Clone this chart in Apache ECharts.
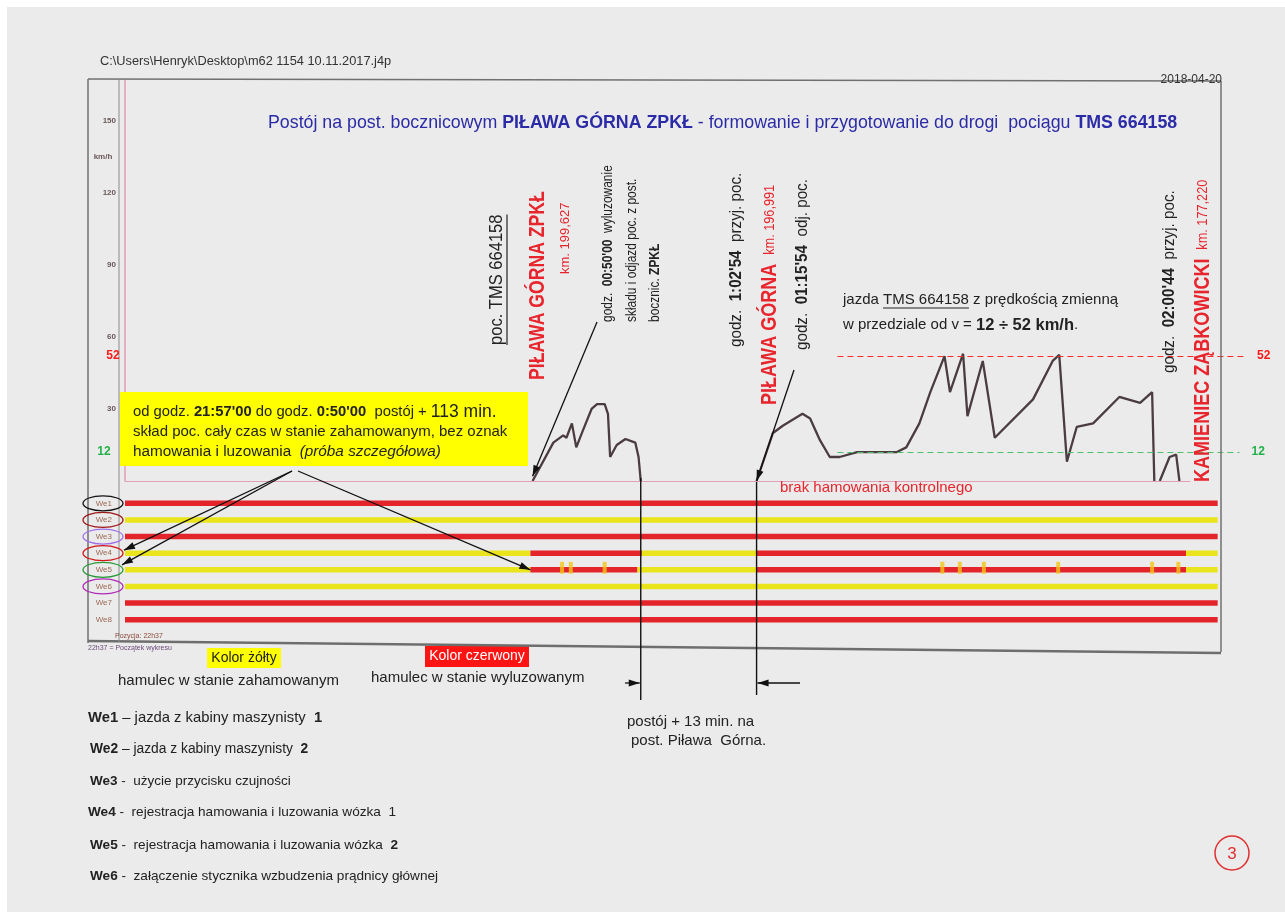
<!DOCTYPE html>
<html><head><meta charset="utf-8">
<script src="https://cdn.jsdelivr.net/npm/echarts@6/dist/echarts.min.js"></script>
<style>html,body{margin:0;padding:0;background:#fff}#c{width:1285px;height:912px}</style>
</head><body><div id="c"></div>
<script>
// ---- DATA ----
// recording position (chart units, not linear time) and speed [km/h]
const speedPos = [0, 373, 392, 401, 404, 409, 413, 419, 427, 432, 439, 442, 444, 450, 458, 467, 470, 472, 578, 593, 602, 620, 627, 636, 645, 654, 670, 684, 706, 715, 727, 737, 750, 755, 767, 771, 785, 796, 831, 849, 855, 862, 871, 886, 910, 929, 940, 942, 947, 956, 962, 965, 975];
const speedKmh = [0, 0, 16, 19, 18, 24, 14, 21, 30, 32, 32, 28, 10, 15, 17.5, 16, 10, 0, 0, 20, 23, 28, 26, 17, 10, 10, 12, 12, 12, 14, 24, 37, 52, 37, 53, 27, 50, 18, 34, 50, 52.5, 8, 22.5, 24, 35, 32.5, 37, 0, 0, 10, 11, 0, 0];
const speedTicks = [30, 60, 90, 120, 150];
const speedLimits = [52, 12];
const rowLabels = ['We1', 'We2', 'We3', 'We4', 'We5', 'We6', 'We7', 'We8'];
// digital inputs: [start, end, state]  1 = red (wyluzowany), 0 = yellow (zahamowany)
const we1 = [[0, 1000, 1]];
const we2 = [[0, 1000, 0]];
const we3 = [[0, 1000, 1]];
const we4 = [[0, 371, 0], [371, 473, 1], [473, 578, 0], [578, 971, 1], [971, 1000, 0]];
const we5 = [[0, 371, 0], [371, 469, 1], [469, 578, 0], [578, 971, 1], [971, 1000, 0]];
const we6 = [[0, 1000, 0]];
const we7 = [[0, 1000, 1]];
const we8 = [[0, 1000, 1]];
const we5Pulses = [400, 408, 439, 748, 764, 786, 854, 940, 964];
const stopStart = 472, stopEnd = 578, departPos = 373;

// ---- BUILD ----
const RED = '#e3242b', YEL = '#e9e41c';
const N = "'Liberation Sans Narrow','Arial Narrow','Liberation Sans',Arial,sans-serif";
const A = "'Liberation Sans',Arial,sans-serif";
const tracks = [we1, we2, we3, we4, we5, we6, we7, we8];
const trackData = [];
tracks.forEach((segs, r) => segs.forEach(s => trackData.push([r, s[0], s[1], s[2]])));
const speedData = [];
for (let i = 1; i < speedPos.length; i++) {
  speedData.push([speedPos[i], speedKmh[i]]);
  if (i + 1 < speedPos.length && speedKmh[i] === 0 && speedKmh[i + 1] === 0) speedData.push([(speedPos[i] + speedPos[i + 1]) / 2, '-']);
}
const chart = echarts.init(document.getElementById('c'), null, {renderer: 'canvas'});
const dash = [6, 4];
chart.setOption({
  animation: false,
  backgroundColor: '#ebebeb',
  grid: [
    {left: 125, right: 40, top: 80, height: 401, containLabel: false, outerBoundsMode: 'none'},
    {left: 125, right: 40, top: 495, height: 133, containLabel: false, outerBoundsMode: 'none'}
  ],
  xAxis: [
    {gridIndex: 0, type: 'value', min: 0, max: 1025, show: false},
    {gridIndex: 1, type: 'value', min: 0, max: 1025, show: false}
  ],
  yAxis: [
    {gridIndex: 0, type: 'value', min: 0, max: 167, interval: 30,
      axisLine: {show: true, lineStyle: {color: '#e2a0b6', width: 1.5}}, axisTick: {show: false}, splitLine: {show: false},
      axisLabel: {margin: 9, fontSize: 8, fontWeight: 'bold', color: '#6a5858', fontFamily: A,
        formatter: v => speedTicks.indexOf(v) >= 0 ? String(v) : ''}},
    {gridIndex: 1, type: 'category', data: rowLabels, inverse: true,
      axisLine: {show: false}, axisTick: {show: false}, splitLine: {show: false},
      axisLabel: {margin: 13, fontSize: 8, color: '#9c6a55', fontFamily: A}}
  ],
  series: [
    {type: 'line', xAxisIndex: 0, yAxisIndex: 0, data: speedData, showSymbol: false, connectNulls: false,
      lineStyle: {color: '#4b3c40', width: 2.3}, z: 3,
      markLine: {silent: true, symbol: ['none', 'none'], animation: false,
        data: [
          [{coord: [0, 0], lineStyle: {color: '#e2a0b6', type: 'solid', width: 1.2}, label: {show: false}}, {coord: [975, 0]}],
          [{coord: [652, speedLimits[0]], lineStyle: {color: '#ff2a2a', type: dash, width: 1}, label: {show: true, position: 'end', distance: 12, formatter: String(speedLimits[0]), color: '#ff1a1a', fontWeight: 'bold', fontSize: 12, fontFamily: A}}, {coord: [1025, speedLimits[0]]}],
          [{coord: [652, speedLimits[1]], lineStyle: {color: '#4cc06a', type: dash, width: 1}, label: {show: true, position: 'end', distance: 12, formatter: String(speedLimits[1]), color: '#22b04a', fontWeight: 'bold', fontSize: 12, fontFamily: A}}, {coord: [1020, speedLimits[1]]}]
        ]}},
    {type: 'custom', xAxisIndex: 1, yAxisIndex: 1, data: trackData, encode: {x: [1, 2], y: 0}, z: 2,
      renderItem: function (params, api) {
        const r = api.value(0), s = api.value(1), e = api.value(2), st = api.value(3);
        const p1 = api.coord([s, r]), p2 = api.coord([e, r]);
        return {type: 'rect', shape: {x: p1[0], y: p1[1] - 2.75, width: p2[0] - p1[0], height: 5.5}, style: {fill: st === 1 ? RED : YEL}};
      }},
    {type: 'scatter', xAxisIndex: 1, yAxisIndex: 1, data: we5Pulses.map(x => [x, 'We5']), symbol: 'rect', symbolSize: [4, 12], symbolOffset: [0, -2], itemStyle: {color: '#f2c51a'}, z: 4, silent: true}
  ]
});

// ---- ANNOTATIONS ----
const ctx = document.createElement('canvas').getContext('2d');
function tw(t, size, fam, w) { ctx.font = (w || 'normal') + ' ' + size + 'px ' + fam; return ctx.measureText(t).width; }
const P = (u, v) => chart.convertToPixel({xAxisIndex: 0, yAxisIndex: 0}, [u, v]);
const T = (u, r) => chart.convertToPixel({xAxisIndex: 1, yAxisIndex: 1}, [u, r]);
const g = [];
const Z = 20;
function line(x1, y1, x2, y2, c, w) { g.push({type: 'line', z: Z, silent: true, shape: {x1, y1, x2, y2}, style: {stroke: c || '#111', lineWidth: w || 1.3}}); }
function arrow(x1, y1, x2, y2) {
  line(x1, y1, x2, y2, '#111', 1.3);
  const dx = x2 - x1, dy = y2 - y1, L = Math.hypot(dx, dy), ux = dx / L, uy = dy / L, hl = 11, hw = 3.5;
  const bx = x2 - ux * hl, by = y2 - uy * hl;
  g.push({type: 'polygon', z: Z, silent: true, shape: {points: [[x2, y2], [bx - uy * hw, by + ux * hw], [bx + uy * hw, by - ux * hw]]}, style: {fill: '#111'}});
}
function text(x, y, t, o) {
  o = o || {};
  const size = o.size || 14, fam = o.fam || N, fill = o.fill || '#222';
  g.push({type: 'text', z: Z + 1, silent: true, x, y, rotation: o.rot ? Math.PI / 2 : 0, scaleX: o.sx || 1,
    style: {text: t, fill, fontSize: size, fontFamily: fam, fontWeight: o.weight || 'normal', fontStyle: o.style || 'normal',
      align: o.align || 'left', verticalAlign: o.va || 'middle',
      rich: Object.assign({
        b: {fontWeight: 'bold', fontSize: size, fontFamily: fam, fill},
        i: {fontStyle: 'italic', fontSize: size, fontFamily: fam, fill}
      }, o.rich || {})}});
}
function rect(x, y, w, h, fill, z) { g.push({type: 'rect', z: z === undefined ? Z - 1 : z, silent: true, shape: {x, y, width: w, height: h}, style: {fill}}); }

// paper edges
rect(0, 0, 1285, 7, '#ffffff', 0);
rect(0, 0, 7, 912, '#ffffff', 0);
// frame
line(88, 79, 1221, 81, '#707070', 1.5);
line(88, 79, 88, 643, '#707070', 1.5);
line(1221, 81, 1221, 652, '#707070', 1.5);
line(88, 641, 1221, 653, '#6e6e6e', 2.5);
line(119, 80, 119, 642, '#8a8a8a', 1);

// header
text(100, 61, 'C:\\Users\\Henryk\\Desktop\\m62 1154 10.11.2017.j4p', {size: 12.8, fill: '#333'});
text(1222, 80, '2018-04-20', {size: 12, fam: A, fill: '#333', align: 'right'});
text(268, 123, 'Postój na post. bocznicowym {b|PIŁAWA GÓRNA ZPKŁ} - formowanie i przygotowanie do drogi  pociągu {b|TMS 664158}', {size: 17.8, fam: A, fill: '#2b2ba8'});

// y axis unit
text(103, P(0, 135)[1], 'km/h', {size: 8, fam: A, fill: '#6a5858', weight: 'bold', align: 'center'});
// left speed limit labels
text(113, P(0, speedLimits[0])[1], String(speedLimits[0]), {size: 12, fam: A, fill: '#ff1a1a', weight: 'bold', align: 'center'});
text(104, P(0, speedLimits[1])[1], String(speedLimits[1]), {size: 12, fam: A, fill: '#22b04a', weight: 'bold', align: 'center'});

// vertical annotations
const pocTxt = 'poc. TMS 664158';
text(497, 345, pocTxt, {size: 19, rot: true, sx: 0.87});
line(507, 345, 507, 345 - tw(pocTxt, 19, N) * 0.87, '#222', 1.2);
const RB = {B: {fontWeight: 'bold', fontSize: 22, fontFamily: N, fill: '#e8242c'}};
text(538, 380, '{B|PIŁAWA GÓRNA ZPKŁ}', {size: 22, fill: '#e8242c', rot: true, sx: 0.8, rich: RB});
text(565, 274, 'km. 199,627', {size: 13, fill: '#e8242c', rot: true});
text(608, 322, 'godz.  {b|00:50\'00}  wyluzowanie', {size: 15.5, rot: true, sx: 0.77});
text(632, 322, 'składu i odjazd poc. z post.', {size: 15.5, rot: true, sx: 0.77});
text(655, 322, 'bocznic. {b|ZPKŁ}', {size: 15.5, rot: true, sx: 0.77});
text(737, 347, 'godz.  {b|1:02\'54}  przyj. poc.', {size: 16, rot: true, sx: 0.95});
text(770, 405, '{B|PIŁAWA GÓRNA}   {k|km. 196,991}', {size: 13, fill: '#e8242c', rot: true, sx: 0.82, rich: Object.assign({k: {fontSize: 15.5, fontFamily: N, fill: '#e8242c'}}, RB)});
text(803, 350, 'godz.  {b|01:15\'54}  odj. poc.', {size: 16, rot: true, sx: 0.95});
text(1170, 373, 'godz.  {b|02:00\'44}  przyj. poc.', {size: 16, rot: true, sx: 0.95});
text(1203, 482, '{B|KAMIENIEC ZĄBKOWICKI}   {k|km. 177,220}', {size: 13, fill: '#e8242c', rot: true, sx: 0.82, rich: Object.assign({k: {fontSize: 15.5, fontFamily: N, fill: '#e8242c'}}, RB)});

// driving note
text(843, 300, 'jazda TMS 664158 z prędkością zmienną', {size: 15});
const ux0 = 843 + tw('jazda ', 15, N);
line(ux0, 308, ux0 + tw('TMS 664158', 15, N), 308, '#222', 1.1);
text(843, 325, 'w przedziale od v = {B|12 ÷ 52 km/h}.', {size: 15, rich: {B: {fontWeight: 'bold', fontSize: 16.5, fontFamily: N, fill: '#222'}}});

// yellow box
rect(120, 392, 408, 74, '#ffff00');
text(133, 412, 'od godz. {b|21:57\'00} do godz. {b|0:50\'00}  postój + {L|113 min.}', {size: 14.8, rich: {L: {fontSize: 17.5, fontFamily: N, fill: '#222'}}});
text(133, 432, 'skład poc. cały czas w stanie zahamowanym, bez oznak', {size: 15});
text(133, 452, 'hamowania i luzowania  {i|(próba szczegółowa)}', {size: 15.3});

text(780, 488, 'brak hamowania kontrolnego', {size: 15, fill: '#e8242c'});

// ovals around input labels
const ovalCol = ['#111111', '#a01818', '#a070e8', '#d01818', '#2a9a3a', '#b02ab8'];
ovalCol.forEach((c, i) => {
  const y = T(0, rowLabels[i])[1];
  g.push({type: 'ellipse', z: Z, silent: true, shape: {cx: 103, cy: y, rx: 20, ry: 7.5}, style: {stroke: c, lineWidth: 1.3, fill: 'none'}});
});

// arrows
const pDep = P(departPos, 2);
arrow(597, 322, pDep[0], pDep[1]);
const pArr = P(stopEnd, 0);
arrow(794, 370, pArr[0], pArr[1]);
const y4 = T(0, 'We4')[1], y5 = T(0, 'We5')[1];
arrow(292, 471, 124, y4 - 3);
arrow(292, 471, 122, y5 - 5);
const pT = T(371, 'We5');
arrow(298, 471, pT[0], pT[1]);
const xs1 = P(stopStart, 0)[0], xs2 = P(stopEnd, 0)[0];
line(xs1, 478, xs1, 700, '#111', 1.4);
line(xs2, 482, xs2, 695, '#111', 1.4);
arrow(625, 683, xs1 - 1, 683);
arrow(800, 683, xs2 + 1, 683);

// legend at bottom
rect(207, 648, 74, 20, '#ffff00');
text(244, 658, 'Kolor żółty', {size: 14, align: 'center'});
rect(425, 646, 104, 21, '#ff1414');
text(477, 656, 'Kolor czerwony', {size: 14, align: 'center', fill: '#ffffff'});
text(118, 681, 'hamulec w stanie zahamowanym', {size: 15});
text(371, 678, 'hamulec w stanie wyluzowanym', {size: 15});
text(627, 722, 'postój + 13 min. na', {size: 15});
text(631, 741, 'post. Piława  Górna.', {size: 15});

text(88, 718, '{b|We1} – jazda z kabiny maszynisty  {b|1}', {size: 14.8});
text(90, 749, '{b|We2} – jazda z kabiny maszynisty  {b|2}', {size: 13.8});
text(90, 781, '{b|We3} -  użycie przycisku czujności', {size: 13.5});
text(88, 812, '{b|We4} -  rejestracja hamowania i luzowania wózka  1', {size: 13.6});
text(90, 845, '{b|We5} -  rejestracja hamowania i luzowania wózka  {b|2}', {size: 13.6});
text(90, 876, '{b|We6} -  załączenie stycznika wzbudzenia prądnicy głównej', {size: 13.6});

text(115, 636, 'Pozycja: 22h37', {size: 7, fam: A, fill: '#8a4a3a'});
text(88, 648, '22h37 = Początek wykresu', {size: 7, fam: A, fill: '#6a4a7a'});

g.push({type: 'circle', z: Z, silent: true, shape: {cx: 1232, cy: 853, r: 17}, style: {stroke: '#e03030', lineWidth: 1.5, fill: 'none'}});
text(1232, 854, '3', {size: 17, fam: A, fill: '#e03030', align: 'center'});

chart.setOption({graphic: {elements: g}});
</script>
</body></html>
